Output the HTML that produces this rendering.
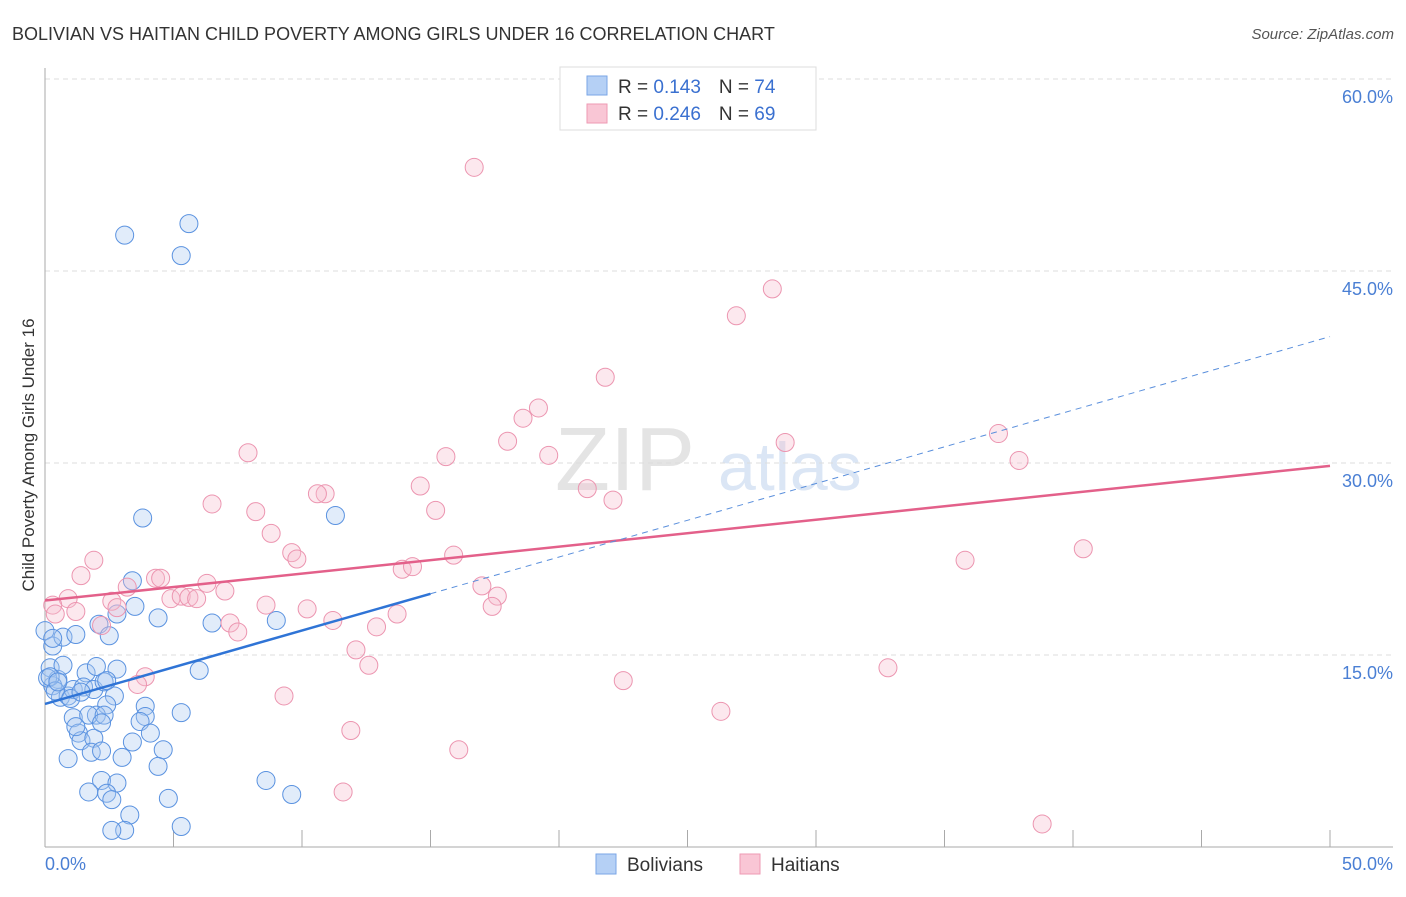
<!DOCTYPE html>
<html><head><meta charset="utf-8"><style>
body{margin:0;background:#fff;font-family:"Liberation Sans",sans-serif}
svg text{font-family:"Liberation Sans",sans-serif}
</style></head><body>
<svg id="c" width="1406" height="892">
<text x="12" y="40" font-size="18" fill="#333">BOLIVIAN VS HAITIAN CHILD POVERTY AMONG GIRLS UNDER 16 CORRELATION CHART</text>
<text x="1394" y="39" font-size="15" fill="#555" text-anchor="end" font-style="italic">Source: ZipAtlas.com</text>
<text x="34" y="455" font-size="17" fill="#333" text-anchor="middle" transform="rotate(-90 34 455)">Child Poverty Among Girls Under 16</text>
<text x="555" y="490" font-size="90" fill="#e4e4e4" font-family="Liberation Serif">ZIP</text>
<text x="718" y="490" font-size="68" fill="#dbe6f5">atlas</text>
<g id="grid"></g><g id="pts"></g><g id="lines"></g>
<g>
<rect x="560" y="67" width="256" height="63" fill="#fff" stroke="#ddd"/>
<rect x="587" y="76" width="20" height="19" fill="#b5d0f5" stroke="#7aa6e6"/>
<rect x="587" y="104" width="20" height="19" fill="#f9c6d5" stroke="#ee9ab3"/>
<text x="618" y="93" font-size="19" fill="#333">R = <tspan fill="#3a70d0">0.143</tspan><tspan dx="18">N = </tspan><tspan fill="#3a70d0">74</tspan></text>
<text x="618" y="120" font-size="19" fill="#333">R = <tspan fill="#3a70d0">0.246</tspan><tspan dx="18">N = </tspan><tspan fill="#3a70d0">69</tspan></text>
</g>
<g>
<rect x="596" y="854" width="20" height="20" fill="#b5d0f5" stroke="#7aa6e6"/>
<text x="627" y="871" font-size="19" fill="#333">Bolivians</text>
<rect x="740" y="854" width="20" height="20" fill="#f9c6d5" stroke="#ee9ab3"/>
<text x="771" y="871" font-size="19" fill="#333">Haitians</text>
</g>
</svg>
<script>
const yTicks=[15,30,45,60];
const xTickLabels=["0.0%","50.0%"];
const bolX=[3.1,5.6,5.3,3.8,11.3,3.4,3.5,2.8,4.4,6.5,9.0,2.1,2.5,0.0,0.3,0.7,1.2,0.2,0.5,0.7,1.6,2.8,2.0,0.3,0.6,0.9,1.1,1.5,1.9,2.3,2.7,2.4,2.0,3.9,5.3,6.0,1.1,1.7,3.9,2.3,3.7,4.1,1.3,1.4,1.9,3.4,4.6,1.8,2.2,0.9,4.4,2.2,2.8,8.6,1.7,2.4,2.6,4.8,9.6,3.3,3.1,5.3,0.1,0.2,0.4,1.0,2.2,3.0,1.4,2.4,0.3,0.5,1.2,2.6];
const bolY=[47.8,48.7,46.2,25.7,25.9,20.8,18.8,18.2,17.9,17.5,17.7,17.4,16.5,16.9,15.7,16.4,16.6,14.0,13.1,14.2,13.6,13.9,14.1,12.6,11.7,11.8,12.3,12.5,12.3,12.9,11.8,11.1,10.3,11.0,10.5,13.8,10.1,10.3,10.2,10.3,9.8,8.9,8.9,8.3,8.5,8.2,7.6,7.4,7.5,6.9,6.3,5.2,5.0,5.2,4.3,4.2,3.7,3.8,4.1,2.5,1.3,1.6,13.2,13.3,12.2,11.6,9.7,7.0,12.1,13.0,16.3,12.9,9.4,1.3];
const haiX=[16.7,28.3,26.9,21.8,19.2,18.6,28.8,18.0,37.1,37.9,7.9,15.6,19.6,14.6,10.9,10.6,6.5,8.2,15.2,22.1,21.1,8.8,9.6,9.8,15.9,40.4,35.8,1.9,1.4,3.2,4.3,4.5,6.3,7.0,4.9,5.3,5.6,5.9,2.6,0.9,0.3,0.4,1.2,2.8,8.6,10.2,11.2,13.7,12.9,7.2,7.5,2.2,13.9,14.3,17.0,17.6,17.4,12.1,12.6,3.9,3.6,9.3,22.5,26.3,32.8,11.9,16.1,11.6,38.8];
const haiY=[53.1,43.6,41.5,36.7,34.3,33.5,31.6,31.7,32.3,30.2,30.8,30.5,30.6,28.2,27.6,27.6,26.8,26.2,26.3,27.1,28.0,24.5,23.0,22.5,22.8,23.3,22.4,22.4,21.2,20.3,21.0,21.0,20.6,20.0,19.4,19.6,19.5,19.4,19.2,19.4,18.9,18.2,18.4,18.7,18.9,18.6,17.7,18.2,17.2,17.5,16.8,17.3,21.7,21.9,20.4,19.6,18.8,15.4,14.2,13.3,12.7,11.8,13.0,10.6,14.0,9.1,7.6,4.3,1.8];
const NS="http://www.w3.org/2000/svg";
const X0=45,X1=1330,Y0=847,Y60=79;
const xs=v=>X0+(X1-X0)*v/50, ys=v=>Y0-(Y0-Y60)*v/60;
function mk(tag,attrs,parent){const e=document.createElementNS(NS,tag);for(const k in attrs)e.setAttribute(k,attrs[k]);parent.appendChild(e);return e;}
const svg=document.getElementById('c'),grid=document.getElementById('grid'),pts=document.getElementById('pts'),lines=document.getElementById('lines');
yTicks.forEach(t=>{
 const l=mk('line',{x1:X0,x2:1393,y1:ys(t),y2:ys(t),stroke:'#ddd','stroke-dasharray':'5,4'},grid);
 
 
 const tx=mk('text',{x:1393,y:ys(t)+24,'font-size':18,fill:'#4a7fd4','text-anchor':'end'},grid);
 tx.textContent=t.toFixed(1)+'%';
 
 
});
const ax=mk('line',{x1:X0,x2:1393,y1:Y0,y2:Y0,stroke:'#aaa'},grid);


const ay=mk('line',{x1:X0,x2:X0,y1:68,y2:Y0,stroke:'#aaa'},grid);


for(let i=5;i<=50;i+=5){const tk=mk('line',{x1:xs(i),x2:xs(i),y1:Y0-17,y2:Y0,stroke:'#aaa'},grid);
 
 }
[[0,45,'start'],[50,1393,'end']].forEach((d,i)=>{const t=mk('text',{x:d[1],y:870,'font-size':18,fill:'#4a7fd4','text-anchor':d[2]},grid);t.textContent=xTickLabels[i];
 
 });
function dots(X,Y,fill,stroke,name){X.forEach((x,i)=>{const c=mk('circle',{cx:xs(x),cy:ys(Y[i]),r:9,fill:fill,'fill-opacity':0.35,stroke:stroke,'stroke-width':1},pts);
 
 });}
dots(bolX,bolY,'#a9c8f2','#5a92e0','bolivian-point');
dots(haiX,haiY,'#f7bccd','#ec95b0','haitian-point');
function fit(X,Y){const n=X.length;let mx=0,my=0;X.forEach((x,i)=>{mx+=x;my+=Y[i]});mx/=n;my/=n;let sxy=0,sxx=0;X.forEach((x,i)=>{sxy+=(x-mx)*(Y[i]-my);sxx+=(x-mx)**2});const b=sxy/sxx;return [my-b*mx,b];}
const [pa,pb]=fit(haiX,haiY);
const pl=mk('line',{x1:xs(0),y1:ys(pa),x2:xs(50),y2:ys(pa+50*pb),stroke:'#e3608a','stroke-width':2.5},lines);


const [ba,bb]=fit(bolX,bolY);
const bl=mk('line',{x1:xs(0),y1:ys(ba),x2:xs(15),y2:ys(ba+15*bb),stroke:'#2f74d6','stroke-width':2.5},lines);


const bd=mk('line',{x1:xs(15),y1:ys(ba+15*bb),x2:xs(50),y2:ys(ba+50*bb),stroke:'#5a8fdc','stroke-width':1,'stroke-dasharray':'6,5'},lines);


</script>
</body></html>
